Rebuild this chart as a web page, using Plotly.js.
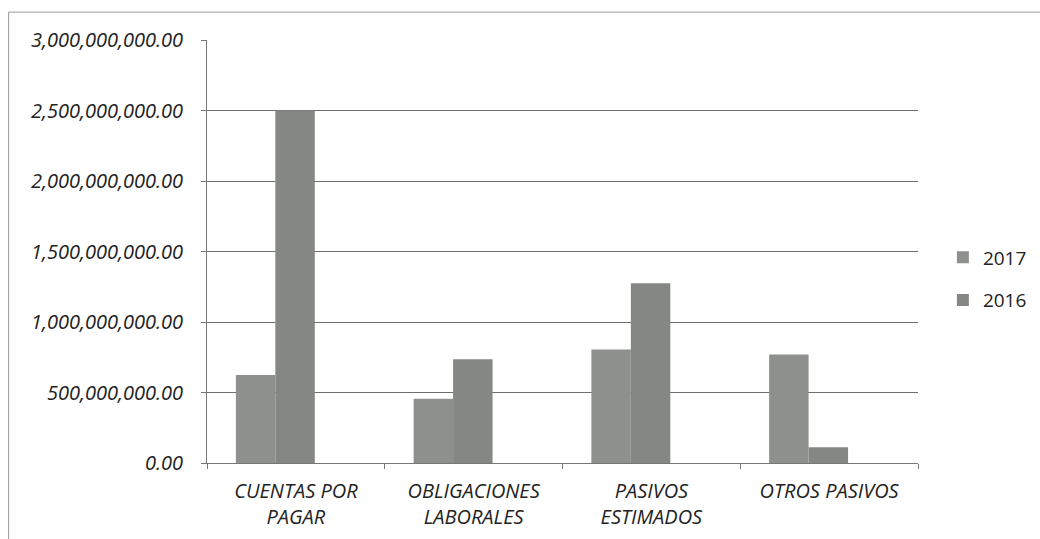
<!DOCTYPE html>
<html>
<head>
<meta charset="utf-8">
<script src="https://cdn.plot.ly/plotly-3.0.1.min.js"></script>
<style>
html,body{margin:0;padding:0;background:#fff;}
#chart{width:1040px;height:539px;}
</style>
</head>
<body>
<div id="chart"></div>
<script>
var categories = ["CUENTAS POR<br>PAGAR", "OBLIGACIONES<br>LABORALES", "PASIVOS<br>ESTIMADOS", "OTROS PASIVOS"];
var values2017 = [625000000, 455000000, 805000000, 770000000];
var values2016 = [2500000000, 735000000, 1275000000, 112000000];
var seriesNames = ["2017", "2016"];
var yTicks = [0, 500000000, 1000000000, 1500000000, 2000000000, 2500000000, 3000000000];

var traces = [
  {type: "bar", name: seriesNames[0], x: categories, y: values2017, legendgroup: "a",
   width: 0.222, offset: -0.3375,
   marker: {color: "#8e908e", line: {width: 0}}},
  {type: "bar", name: seriesNames[1], x: categories, y: values2016, legendgroup: "b",
   width: 0.222, offset: -0.1155,
   marker: {color: "#858785", line: {width: 0}}}
];

var layout = {
  width: 1040, height: 539,
  margin: {l: 207, r: 122, t: 40, b: 76, autoexpand: false},
  paper_bgcolor: "#fff", plot_bgcolor: "#fff",
  barmode: "overlay",
  showlegend: true,
  legend: {x: 1.035, y: 0.435, xanchor: "left", yanchor: "middle",
           font: {family: "Open Sans, sans-serif", size: 19, color: "#222"},
           traceorder: "grouped", tracegroupgap: 15, itemwidth: 30},
  xaxis: {type: "category", showgrid: false, showline: true, linecolor: "#777", linewidth: 1,
          ticks: "outside", tickson: "boundaries", ticklen: 5, tickcolor: "#777",
          ticklabelstandoff: 10,
          tickfont: {family: "Open Sans, sans-serif", size: 20, color: "#222", style: "italic"},
          fixedrange: true},
  yaxis: {range: [0, 3000000000], tickvals: yTicks, tickformat: ",.2f",
          showgrid: true, gridcolor: "#6e6e6e", gridwidth: 1,
          showline: true, linecolor: "#777", linewidth: 1, zeroline: false,
          ticks: "outside", ticklen: 5, tickcolor: "#777",
          ticklabelstandoff: 14,
          tickfont: {family: "Open Sans, sans-serif", size: 20, color: "#222", style: "italic"},
          fixedrange: true},
  shapes: [
    {type: "line", xref: "paper", yref: "paper", x0: -0.279, x1: -0.279, y0: -0.3, y1: 1.066,
     line: {color: "#999", width: 1}},
    {type: "line", xref: "paper", yref: "paper", x0: -0.279, x1: 1.2, y0: 1.066, y1: 1.066,
     line: {color: "#999", width: 1}}
  ]
};

Plotly.newPlot("chart", traces, layout, {displayModeBar: false, staticPlot: true});
</script>
</body>
</html>
